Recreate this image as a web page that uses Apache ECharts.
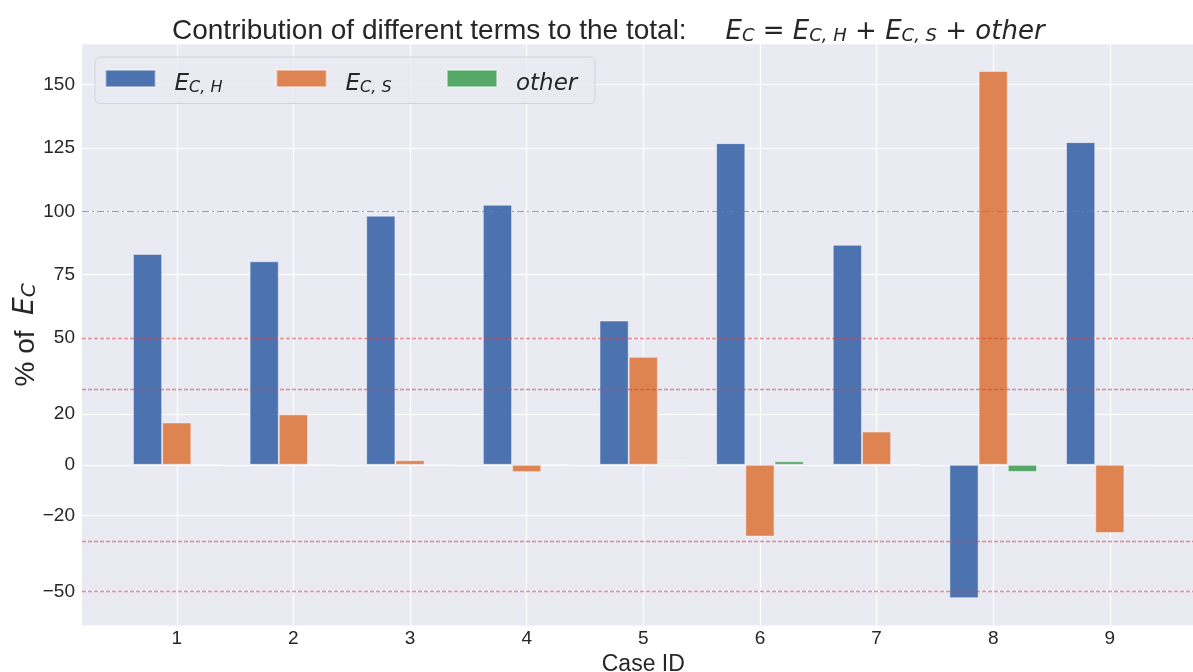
<!DOCTYPE html>
<html>
<head>
<meta charset="utf-8">
<script src="https://cdn.jsdelivr.net/npm/echarts@6/dist/echarts.min.js"></script>
<style>
  html, body { margin: 0; padding: 0; background: #fff; }
  #chart { width: 1193px; height: 672px; }
</style>
</head>
<body>
<div id="chart"></div>
<script>
// values, % of E_C per case
const cases = [1, 2, 3, 4, 5, 6, 7, 8, 9];
const ecH = [83.2, 80.3, 98.3, 102.6, 56.9, 126.9, 86.8, -52.6, 127.3];
const ecS = [16.7, 19.9, 1.8, -2.9, 42.6, -28.3, 13.1, 155.4, -26.9];
const other = [0.1, -0.2, -0.1, 0.3, 0.5, 1.4, 0.1, -2.8, -0.4];
const yTicks = [-50, -20, 0, 20, 50, 75, 100, 125, 150];
const redLines = [50, 30, -30, -50];
const totalLine = 100;

const mathFont = 'DejaVu Sans';
const textFont = 'Liberation Sans';
const ink = '#262626';

const chart = echarts.init(document.getElementById('chart'));

function pairs(vals) {
  return cases.map((c, i) => [c, vals[i]]);
}

function fmtTick(v) {
  return v < 0 ? '\u2212' + Math.abs(v) : String(v);
}

function barStyle(color) {
  return { color: color, borderColor: 'rgba(255,255,255,0.45)', borderWidth: 1 };
}

const legendNames = {
  'EC,H': '{e0|E}{s|C, H}',
  'EC,S': '{e0|E}{s|C, S}',
  'other': '{e0|other}'
};

const legendRich = {
  e0: { fontFamily: mathFont, fontStyle: 'italic', fontWeight: 'normal', fontSize: 23, lineHeight: 34,
        verticalAlign: 'bottom', padding: [0, 0, 0, 14], color: ink },
  s: { fontFamily: mathFont, fontStyle: 'italic', fontWeight: 'normal', fontSize: 16, lineHeight: 20,
       verticalAlign: 'bottom', color: ink }
};

function legendAt(name, x) {
  return {
    data: [name],
    left: x,
    top: 69,
    padding: 0,
    itemWidth: 50,
    itemHeight: 17,
    icon: 'rect',
    selectedMode: false,
    formatter: n => legendNames[n],
    textStyle: { rich: legendRich }
  };
}

const option = {
  animation: false,
  backgroundColor: '#ffffff',
  title: {
    text: '{t|Contribution of different terms to the total:}{t|     }' +
          '{m|E}{s|C}{m| = E}{s|C, H}{m| + E}{s|C, S}{m| + other}',
    left: 172,
    top: 5,
    padding: 0,
    textStyle: {
      fontWeight: 'normal',
      rich: {
        t: { fontFamily: textFont, fontWeight: 'normal', fontSize: 28, lineHeight: 40,
             verticalAlign: 'bottom', color: ink },
        m: { fontFamily: mathFont, fontStyle: 'italic', fontWeight: 'normal', fontSize: 26, lineHeight: 40,
             verticalAlign: 'bottom', color: ink },
        s: { fontFamily: mathFont, fontStyle: 'italic', fontWeight: 'normal', fontSize: 18, lineHeight: 22,
             verticalAlign: 'bottom', color: ink }
      }
    }
  },
  graphic: [{
    type: 'rect',
    z: 2,
    shape: { x: 95, y: 57, width: 500, height: 46.5, r: 5 },
    style: { fill: 'rgba(234,234,242,0.8)', stroke: '#d3d3dc', lineWidth: 1 }
  }],
  legend: [
    legendAt('EC,H', 104.5),
    legendAt('EC,S', 275.5),
    legendAt('other', 446)
  ],
  grid: {
    left: 82,
    top: 44.3,
    right: -11.6,
    bottom: 46.5,
    outerBoundsMode: 'none',
    containLabel: false,
    show: true,
    backgroundColor: '#eaeaf2',
    borderWidth: 0
  },
  xAxis: {
    type: 'value',
    min: 0.1875,
    max: 9.8125,
    name: 'Case ID',
    nameLocation: 'middle',
    nameGap: 21,
    nameTextStyle: { fontFamily: textFont, fontSize: 23, color: ink },
    axisLine: { show: false },
    axisTick: { show: false, customValues: cases },
    axisLabel: { customValues: cases, margin: 4, fontFamily: textFont, fontSize: 19, color: ink },
    splitLine: { show: true, lineStyle: { color: '#ffffff', width: 1.2 } }
  },
  yAxis: {
    type: 'value',
    min: -63.4,
    max: 165.9,
    name: '{p|% of  }{m|E}{s|C}',
    nameLocation: 'middle',
    nameRotate: 90,
    nameGap: 42,
    nameMoveOverlap: false,
    nameTextStyle: {
      rich: {
        p: { fontFamily: textFont, fontSize: 28, lineHeight: 34, verticalAlign: 'bottom', color: ink },
        m: { fontFamily: mathFont, fontStyle: 'italic', fontSize: 28, lineHeight: 34,
             verticalAlign: 'bottom', color: ink },
        s: { fontFamily: mathFont, fontStyle: 'italic', fontSize: 20, lineHeight: 22,
             verticalAlign: 'bottom', color: ink }
      }
    },
    axisLine: { show: false },
    axisTick: { show: false, customValues: yTicks },
    axisLabel: { customValues: yTicks, formatter: fmtTick, margin: 7,
                 fontFamily: textFont, fontSize: 19, color: ink },
    splitLine: { show: true, lineStyle: { color: '#ffffff', width: 1.2 } }
  },
  series: [
    { name: 'EC,H', type: 'bar', barWidth: 29.2, barGap: '0%', data: pairs(ecH), itemStyle: barStyle('#4c72b0') },
    { name: 'EC,S', type: 'bar', barWidth: 29.2, barGap: '0%', data: pairs(ecS), itemStyle: barStyle('#dd8452') },
    { name: 'other', type: 'bar', barWidth: 29.2, barGap: '0%', data: pairs(other), itemStyle: barStyle('#55a868') },
    {
      name: 'refs',
      type: 'line',
      data: [],
      z: 5,
      markLine: {
        silent: true,
        symbol: ['none', 'none'],
        label: { show: false },
        data: redLines.map(v => ({
          yAxis: v,
          lineStyle: { color: 'rgba(214,70,80,0.6)', width: 1.3, type: [4, 2] }
        })).concat([{
          yAxis: totalLine,
          lineStyle: { color: 'rgba(125,110,200,0.75)', width: 1.2, type: [7, 3, 2, 3] }
        }])
      }
    }
  ]
};

chart.setOption(option);
</script>
</body>
</html>
